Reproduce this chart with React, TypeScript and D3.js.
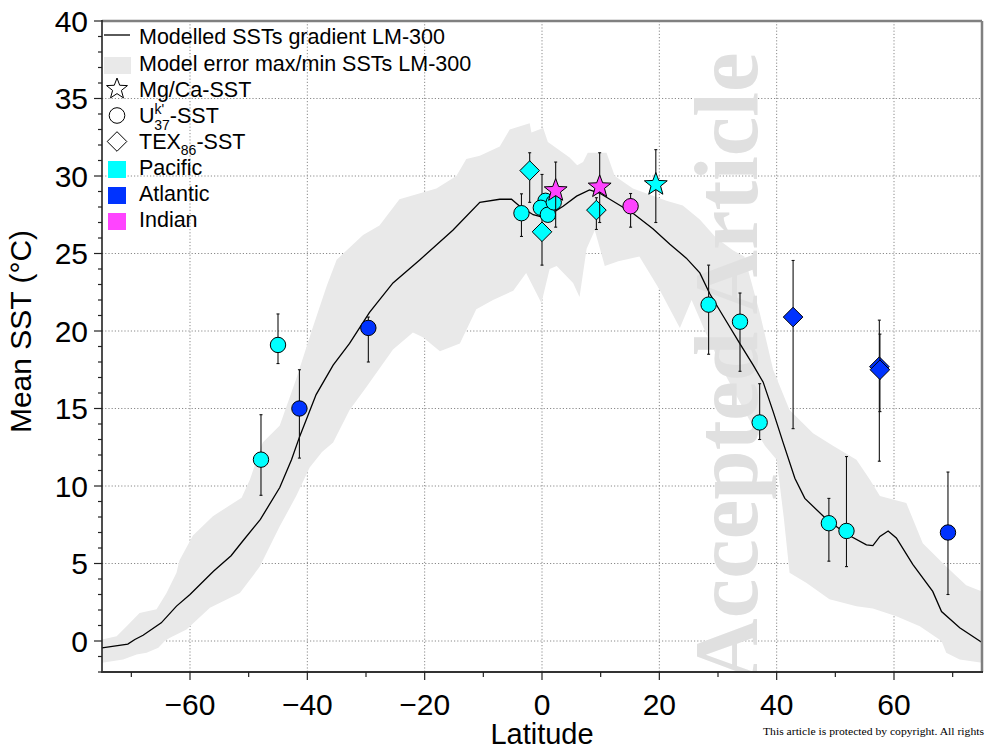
import React from 'react';
import * as d3 from 'd3';

// modelled SST gradient LM-300
const modelLat = [-75, -70.6, -69.4, -68, -64.9, -62.3, -60, -56, -53, -51, -48, -44.7, -42.7, -41.3, -38.5, -35.6, -32.8, -29.4, -25.4, -20.8, -15.2, -10.6, -7.2, -5.2, -3.8, -1.5, 0.5, 3.6, 5.9, 8.1, 9.8, 15.5, 18.9, 21.8, 24.6, 26.9, 28.6, 30.9, 33.7, 36, 37.7, 39.4, 41.1, 43.1, 44.8, 48.5, 51.9, 55.3, 56.4, 57.6, 59, 60.4, 63.2, 66.6, 68.1, 71.2, 75];
const modelSst = [-0.45, -0.2, 0.1, 0.37, 1.17, 2.25, 3.0, 4.5, 5.5, 6.45, 7.85, 9.9, 11.7, 13.2, 15.9, 17.8, 19.2, 21.2, 23.1, 24.6, 26.5, 28.3, 28.5, 28.5, 28.05, 27.5, 27.3, 28.05, 28.7, 29.1, 28.9, 27.6, 26.6, 25.6, 24.7, 23.75, 22.4, 20.95, 19.2, 17.8, 16.7, 14.8, 12.8, 10.5, 9.2, 7.85, 6.9, 6.2, 6.15, 6.75, 7.1, 6.65, 4.95, 3.2, 1.9, 0.85, -0.1];

// model error envelope (max / min)
const maxLat = [-75, -72.5, -70.8, -68.6, -65.7, -64, -62.3, -61.8, -59.5, -56.1, -51.2, -49.8, -47.6, -44.7, -41.9, -39, -36.7, -35, -30.5, -27.7, -24.3, -18, -14.6, -12.9, -10.6, -7.2, -5.5, -2.1, -1.8, 0.2, 1.0, 4.7, 6, 7, 7.8, 11, 12.4, 15.5, 21.2, 24, 26.9, 29.7, 32.6, 34.5, 37.1, 39.4, 42.2, 46.2, 49.6, 53.6, 55.9, 57.6, 62.1, 64.9, 68.9, 72.3, 75];
const maxSst = [0.1, 0.3, 0.95, 1.8, 2.05, 3.1, 4.4, 5.2, 6.8, 8.05, 9.25, 10.4, 12.8, 13.9, 16.9, 20.3, 22.9, 24.6, 26.2, 26.8, 28.5, 29.2, 30, 31.1, 31.3, 31.9, 33, 33.4, 32.8, 33.1, 32.2, 31.2, 30.7, 30.9, 31.5, 31.5, 30, 29.2, 28.4, 28.1, 27.2, 26.0, 25.2, 24.8, 21.2, 17.5, 14.9, 13.4, 12.6, 11.7, 10.4, 9.35, 8.9, 6.3, 4.8, 3.6, 3.2];
const minLat = [-75, -71.4, -69.1, -67.4, -65.4, -64.3, -63.5, -60.6, -56.6, -51.5, -48.1, -44.7, -41.9, -39.6, -37.5, -35.6, -32.8, -29.9, -25.4, -22, -20.3, -17.4, -14, -11.2, -8.35, -4.9, -2.7, -0.1, 1.3, 2.5, 5.3, 6.4, 7.6, 9, 10.7, 13, 16.6, 20, 23.5, 25.5, 28, 31.5, 35, 38, 40, 41.2, 42.2, 45.1, 49, 53.6, 56.4, 60.4, 64.4, 68.1, 68.9, 71.2, 75];
const minSst = [-1.4, -1.2, -0.87, -0.76, -0.44, 0, 0.2, 0.75, 2.15, 3.1, 4.8, 7.4, 9.35, 11.2, 12.2, 12.8, 14.9, 16.4, 18.8, 19.9, 19.6, 18.7, 19.2, 21.4, 22, 22.6, 23.75, 21.8, 24, 24.2, 23.1, 22.2, 25.3, 26.5, 24.2, 24.5, 24.8, 22.7, 20.2, 22.0, 19.8, 17.0, 14.5, 12.6, 11.7, 8, 4.4, 3.75, 2.7, 2.25, 2.1, 1.6, 0.95, 0, -0.76, -1.2, -1.4];

// proxy SSTs
const proxyLat = [-47.9, -45.0, -41.35, -29.6, -3.5, -2.1, 0, 0.6, -0.2, 1.0, 2.0, 2.33, 9.27, 9.83, 15.1, 19.4, 28.4, 33.75, 37.1, 42.8, 57.5, 57.6, 48.9, 51.9, 69.2];
const proxySst = [11.7, 19.1, 15.0, 20.2, 27.6, 30.35, 26.4, 28.4, 27.95, 27.5, 28.3, 29.06, 27.8, 29.3, 28.05, 29.45, 21.7, 20.6, 14.1, 20.9, 17.7, 17.5, 7.6, 7.1, 7.0];
const proxyHigh = [14.6, 21.1, 17.5, 20.9, 28.85, 31.5, 30.1, null, null, null, null, 30.9, 28.6, 31.5, 28.87, 31.7, 24.25, 22.45, 16.6, 24.55, 20.7, 19.8, 9.2, 11.9, 10.9];
const proxyLow = [9.4, 17.9, 11.8, 18.0, 26.1, 28.3, 24.25, null, null, null, null, 26.7, 26.55, 27.0, 26.7, 27.0, 18.5, 17.4, 13.0, 13.7, 11.6, 14.8, 5.15, 4.8, 3.0];
const proxyMethod = ['uk', 'uk', 'uk', 'uk', 'uk', 'tex', 'tex', 'uk', 'uk', 'uk', 'uk', 'mgca', 'tex', 'mgca', 'uk', 'mgca', 'uk', 'uk', 'uk', 'tex', 'tex', 'tex', 'uk', 'uk', 'uk'];
const proxyBasin = ['Pacific', 'Pacific', 'Atlantic', 'Atlantic', 'Pacific', 'Pacific', 'Pacific', 'Pacific', 'Pacific', 'Pacific', 'Pacific', 'Indian', 'Pacific', 'Indian', 'Indian', 'Pacific', 'Pacific', 'Pacific', 'Pacific', 'Atlantic', 'Atlantic', 'Atlantic', 'Pacific', 'Pacific', 'Atlantic'];

const basins = ['Pacific', 'Atlantic', 'Indian'];
const basinColors = ['#00ffff', '#0033ff', '#ff44ff'];

const xMajor = [-60, -40, -20, 0, 20, 40, 60];
const xMinor = [-70, -50, -30, -10, 10, 30, 50, 70];
const yMajor = [0, 5, 10, 15, 20, 25, 30, 35, 40];
const yMinor = d3.range(-2, 41, 1);

const W = 986;
const H = 751;
const L = 102, R = 982, T = 21, B = 672;

const sans = 'Liberation Sans, Arial, Helvetica, sans-serif';
const serif = 'Liberation Serif, Times New Roman, serif';

function starPath(r: number) {
  const pts: [number, number][] = [];
  for (let i = 0; i < 10; i++) {
    const rr = i % 2 === 0 ? r : r * 0.42;
    const a = -Math.PI / 2 + (i * Math.PI) / 5;
    pts.push([rr * Math.cos(a), rr * Math.sin(a)]);
  }
  return 'M' + pts.map(p => p.join(',')).join('L') + 'Z';
}
const diamondPath = (h: number) => `M0,${-h}L${h},0L0,${h}L${-h},0Z`;

function Marker({ kind, fill, x, y }: { kind: string; fill: string; x: number; y: number }) {
  if (kind === 'uk') return <circle cx={x} cy={y} r={7.7} fill={fill} stroke="#000" strokeWidth={1} />;
  if (kind === 'tex') return <path transform={`translate(${x},${y})`} d={diamondPath(9.8)} fill={fill} stroke="#000" strokeWidth={1} />;
  return <path transform={`translate(${x},${y})`} d={starPath(12)} fill={fill} stroke="#000" strokeWidth={1} />;
}

export default function App() {
  const x = d3.scaleLinear().domain([-75, 75]).range([L, R]);
  const y = d3.scaleLinear().domain([-2, 40]).range([B, T]);
  const fmt = d3.format('d');

  const line = d3.line<number>().x((_, i) => x(modelLat[i])).y(d => y(d));
  const upper = maxLat.map((lat, i) => [x(lat), y(maxSst[i])] as [number, number]);
  const lower = minLat.map((lat, i) => [x(lat), y(minSst[i])] as [number, number]).reverse();
  const bandPath = d3.line()([...upper, ...lower]) + 'Z';

  const colorOf = (b: string) => basinColors[basins.indexOf(b)];

  const legendX = 139;
  const legendRows = [44, 71, 97, 123, 149, 175, 201, 227];

  return (
    <svg width={W} height={H} style={{ position: 'absolute', left: 0, top: 0, background: '#fff' }} fontFamily={sans}>
      <defs>
        <clipPath id="plot">
          <rect x={L} y={T} width={R - L} height={B - T} />
        </clipPath>
      </defs>

      {/* grid */}
      <g stroke="#8a8a8a" strokeWidth={1} strokeDasharray="1.2,2">
        {xMajor.map(v => <line key={'gx' + v} x1={x(v)} x2={x(v)} y1={T} y2={B} />)}
        {yMajor.filter(v => v < 40).map(v => <line key={'gy' + v} x1={L} x2={R} y1={y(v)} y2={y(v)} />)}
      </g>

      <g clipPath="url(#plot)">
        <path d={bandPath} fill="#e9e9e9" />
        <text transform={`translate(757,${(T + B) / 2 + 21}) rotate(-90)`} textAnchor="middle" fontFamily={serif} fontWeight="bold" fontSize={90} fill="#e0e0e0" textLength={630} lengthAdjust="spacingAndGlyphs">Accepted Article</text>
        <path d={line(modelSst) || ''} fill="none" stroke="#000" strokeWidth={1.3} />

        {proxyLat.map((lat, i) => {
          const cx = x(lat);
          const hi = proxyHigh[i];
          const lo = proxyLow[i];
          return (
            <g key={'p' + i}>
              {hi != null && lo != null && (
                <g stroke="#111" strokeWidth={1.1}>
                  <line x1={cx} x2={cx} y1={y(hi)} y2={y(lo)} />
                  <line x1={cx - 1.5} x2={cx + 1.5} y1={y(hi)} y2={y(hi)} />
                  <line x1={cx - 1.5} x2={cx + 1.5} y1={y(lo)} y2={y(lo)} />
                </g>
              )}
              <Marker kind={proxyMethod[i]} fill={colorOf(proxyBasin[i])} x={cx} y={y(proxySst[i])} />
            </g>
          );
        })}
      </g>

      {/* frame */}
      <line x1={L} x2={R} y1={T} y2={T} stroke="#808080" strokeWidth={2.5} />
      <line x1={R} x2={R} y1={T} y2={B} stroke="#808080" strokeWidth={2.5} />
      <line x1={L} x2={L} y1={T - 1} y2={B + 1} stroke="#222" strokeWidth={1.6} />
      <line x1={L} x2={R + 1} y1={B} y2={B} stroke="#333" strokeWidth={1.8} />

      {/* y axis */}
      <g stroke="#222" strokeWidth={1.2}>
        {yMinor.map(v => <line key={'ym' + v} x1={L - (v % 5 === 0 ? 8 : 4)} x2={L} y1={y(v)} y2={y(v)} />)}
      </g>
      <g fontSize={30} textAnchor="end" fill="#000">
        {yMajor.map(v => <text key={'yl' + v} x={88} y={y(v)} dy="0.36em">{fmt(v)}</text>)}
      </g>

      {/* x axis */}
      <g stroke="#222" strokeWidth={1.2}>
        {xMajor.map(v => <line key={'xM' + v} x1={x(v)} x2={x(v)} y1={B} y2={B + 8} />)}
        {xMinor.map(v => <line key={'xm' + v} x1={x(v)} x2={x(v)} y1={B} y2={B + 5} />)}
      </g>
      <g fontSize={30} textAnchor="middle" fill="#000">
        {xMajor.map(v => <text key={'xl' + v} x={x(v)} y={715}>{fmt(v)}</text>)}
      </g>

      <text x={x(0)} y={744} fontSize={29} textAnchor="middle">Latitude</text>
      <text transform={`translate(31,${(T + B) / 2 - 15}) rotate(-90)`} fontSize={30} textAnchor="middle">Mean SST (°C)</text>

      {/* legend */}
      <g fontSize={21.5} fill="#000">
        <line x1={104} x2={130} y1={35} y2={35} stroke="#000" strokeWidth={1.3} />
        <text x={legendX} y={legendRows[0]}>Modelled SSTs gradient LM-300</text>
        <rect x={104} y={57} width={27} height={17} fill="#e9e9e9" />
        <text x={legendX} y={legendRows[1]}>Model error max/min SSTs LM-300</text>
        <path transform="translate(117,89)" d={starPath(11)} fill="none" stroke="#000" strokeWidth={1} />
        <text x={legendX} y={legendRows[2]}>Mg/Ca-SST</text>
        <circle cx={117} cy={115.5} r={7.8} fill="none" stroke="#000" strokeWidth={1} />
        <text x={legendX} y={legendRows[3]}>U<tspan dy={-9} fontSize={14}>k'</tspan><tspan dx={-10} dy={16} fontSize={14}>37</tspan><tspan dy={-7}>-SST</tspan></text>
        <path transform="translate(117,141.5)" d={diamondPath(9.8)} fill="none" stroke="#000" strokeWidth={1} />
        <text x={legendX} y={legendRows[4]}>TEX<tspan dy={6} fontSize={14}>86</tspan><tspan dy={-6}>-SST</tspan></text>
        {basins.map((b, i) => (
          <g key={b}>
            <rect x={108} y={161 + i * 26} width={18} height={17} fill={basinColors[i]} />
            <text x={legendX} y={legendRows[5 + i]}>{b}</text>
          </g>
        ))}
      </g>

      <text x={763} y={735} fontFamily={serif} fontSize={11} fill="#000" textLength={221} lengthAdjust="spacingAndGlyphs">This article is protected by copyright. All rights</text>
    </svg>
  );
}
